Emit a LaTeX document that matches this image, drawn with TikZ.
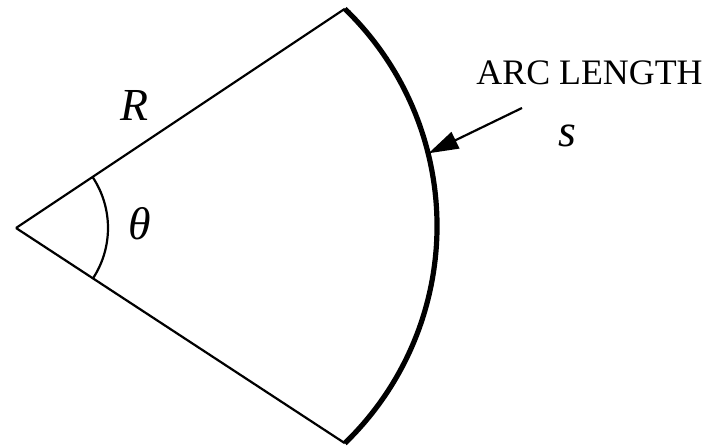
\documentclass[tikz,border=0pt]{standalone}
\usepackage{fontspec}
\setmainfont{Liberation Serif}
\usetikzlibrary{arrows.meta}

\begin{document}
\begin{tikzpicture}[x=1bp,y=1bp,>={Triangle[length=30bp,width=18bp]},line width=2.2bp,
  sym/.style={font=\itshape\fontsize{46}{50}\selectfont,inner sep=0pt}]
\useasboundingbox (0,0) rectangle (709,448);
\coordinate (O) at (16,220);
\coordinate (A) at (344.8,439.2);
\coordinate (B) at (344.8,4.8);
\draw (O)--(A);
\draw (O)--(B);
\draw[line width=5.2bp] (A) arc[start angle=46,end angle=-46,radius=302];
\draw (O) ++(33.7:92) arc[start angle=33.7,end angle=-33.7,radius=92];
\coordinate (tip) at (428.5,294.7);
\coordinate (tail) at (522,340);
\draw[->] (tail)--(tip);
\node[sym] (rlabel) at (134.5,342) {R};
\node[sym] (thlabel) at (140,224) {θ};
\node[sym] (slabel) at (567,312) {s};
\node[font=\fontsize{36}{40}\selectfont,inner sep=0pt] (arclabel) at (589.5,375.5) {ARC LENGTH};
\end{tikzpicture}
\end{document}
